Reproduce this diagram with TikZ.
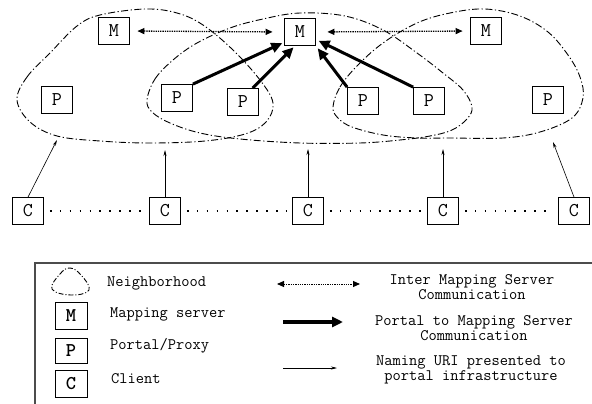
\documentclass[tikz,border=0pt]{standalone}
\usepackage{fontspec}
\newfontfamily\keyfont{lmmonolt10-bold.otf}
\usetikzlibrary{arrows.meta}
\tikzset{
  box/.style = {draw, line width = 0.8pt, inner sep = 0pt,
    minimum width = 31pt, minimum height = 27pt, font = \fontsize{19.5}{19.5}\ttfamily},
  server/.style = {box},
  portal/.style = {box},
  client/.style = {box},
  keybox/.style = {box, minimum width = 32pt, font = \fontsize{19.5}{19.5}\keyfont},
  neighborhood/.style = {line width = 0.9pt,
    dash pattern = on 7pt off 2.5pt on 1.2pt off 2.5pt},   % dash-dot outline
  peer/.style = {line width = 1.3pt, densely dotted,
    {Triangle[length = 7pt, width = 6pt]}-{Triangle[length = 7pt, width = 6pt]}},
  query/.style = {line width = 3pt, -{Triangle[length = 11pt, width = 10pt]}},
  naming/.style = {line width = 0.6pt, -{Stealth[length = 6pt, width = 3pt]}},
  chain/.style = {line width = 1.6pt, dash pattern = on 1.6pt off 8.3pt,
    shorten < = 6pt, shorten > = 6pt},                     % dots between clients
  frame/.style = {line width = 1.2pt, black!70},
  keytext/.style = {anchor = west, inner sep = 0pt, font = \fontsize{16}{16}\ttfamily},
  keynote/.style = {align = center, inner sep = 0pt, font = \fontsize{16}{15.5}\ttfamily}
}

\begin{document}
\begin{tikzpicture}[x = 1pt, y = -1pt]
\useasboundingbox (0,0) rectangle (592,404);

%% Neighborhoods
\draw [neighborhood] plot [smooth cycle, tension = 0.6] coordinates {
  (17,100) (27,77) (50,53) (77,26) (100,15) (145,9) (177,13) (203,25)
  (233,50) (260,80) (273,103) (266,122) (245,134) (205,141) (150,143)
  (100,141) (57,136) (30,122)};
\draw [neighborhood] plot [smooth cycle, tension = 0.6] coordinates {
  (147,100) (155,79) (173,60) (197,43) (230,28) (263,19) (300,13)
  (345,16) (383,30) (417,53) (443,73) (463,90) (472,107) (467,119)
  (452,130) (430,136) (400,140) (360,143) (300,143) (240,139) (200,133)
  (170,123) (152,112)};
\draw [neighborhood] plot [smooth cycle, tension = 0.6] coordinates {
  (333,107) (340,87) (357,66) (383,43) (417,23) (450,13) (485,9)
  (520,16) (548,32) (568,55) (580,77) (583,98) (572,118) (540,132)
  (503,138) (450,138) (417,138) (383,135) (352,127) (338,118)};

%% Mapping servers
\node [server] (ml) at (114,31) {M};
\node [server] (mc) at (300,32) {M};
\node [server] (mr) at (486,31) {M};
\draw [peer, shorten < = 7.5pt, shorten > = 11.5pt] (ml.east) -- (mc.west);
\draw [peer, shorten < = 11.5pt, shorten > = 7.5pt] (mc.east) -- (mr.west);

%% Portals
\node [portal] (p1) at (57,100) {P};
\node [portal] (p2) at (177,98) {P};
\node [portal] (p3) at (243,102) {P};
\node [portal] (p4) at (363,101) {P};
\node [portal] (p5) at (429,101) {P};
\node [portal] (p6) at (548,100) {P};
\draw [query, shorten > = 2pt] (p2.north east) -- (mc.213);
\draw [query, shorten > = 2pt] (p3.55) -- (mc.250);
\draw [query, shorten > = 3pt] (p4.north west) -- (mc.south east);
\draw [query, shorten > = 3pt] (p5.north west) -- (mc.335);

%% Clients and the naming requests
\coordinate (n1) at (57,140);
\coordinate (n2) at (165,150);
\coordinate (n3) at (308,149);
\coordinate (n4) at (443,149);
\coordinate (n5) at (553,142);
\foreach \x [count = \i, remember = \i as \lasti] in {28, 165, 308, 443, 574} {
  \node [client] (c\i) at (\x,211) {C};
  \draw [naming] (c\i.north) -- (n\i);
  \ifnum \i > 1
    \draw [chain] (c\lasti) -- (c\i);
  \fi
}

%% Legend
\begin{scope}
  \clip (0,0) rectangle (592,404);
  \draw [frame] (35,263) rectangle (640,440);
\end{scope}
\draw [neighborhood, dash pattern = on 5pt off 2pt on 1pt off 2pt]
  plot [smooth cycle, tension = 0.7] coordinates {
  (52,289) (60,274) (70,268) (81,275) (89,290) (71,295)};
\node [keytext] (t1) at (107,283) {Neighborhood};
\node [keybox] (km) at (71,316) {M};
\node [keytext] (t2) at (110,314) {Mapping server};
\node [keybox, minimum height = 25pt] (kp) at (71,351) {P};
\node [keytext] (t3) at (110,346) {Portal/Proxy};
\node [keybox] (kc) at (71,384) {C};
\node [keytext] (t4) at (111,379) {Client};

\coordinate (a1) at (277,284);  \coordinate (b1) at (360,284);
\coordinate (a2) at (283,322);  \coordinate (b2) at (343,322);
\coordinate (a3) at (283,368);  \coordinate (b3) at (337,368);
\draw [peer, line width = 1pt] (a1) -- (b1);
\draw [query, line width = 4pt] (a2) -- (b2);
\draw [naming] (a3) -- (b3);
\node [keynote] (t5) at (472,287) {Inter Mapping Server\\Communication};
\node [keynote] (t6) at (474,328) {Portal to Mapping Server\\Communication};
\node [keynote] (t7) at (471,370) {Naming URI presented to\\portal infrastructure};

\end{tikzpicture}
\end{document}
